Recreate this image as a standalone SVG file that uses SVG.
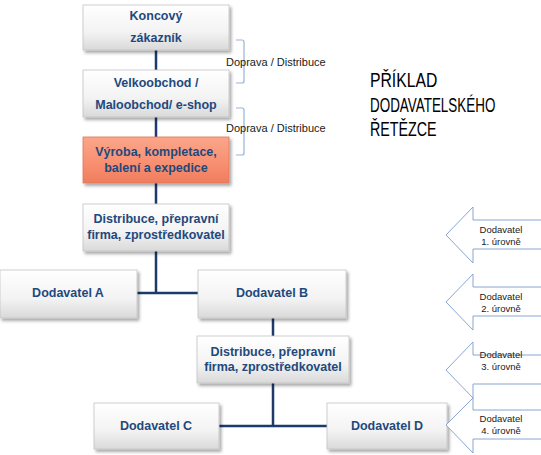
<svg xmlns="http://www.w3.org/2000/svg" width="541" height="455" viewBox="0 0 541 455">
<defs>
<linearGradient id="gw" x1="0" y1="0" x2="0" y2="1">
<stop offset="0" stop-color="#ffffff"/>
<stop offset="0.6" stop-color="#f3f3f3"/>
<stop offset="1" stop-color="#d9d9d9"/>
</linearGradient>
<linearGradient id="go" x1="0" y1="0" x2="0" y2="1">
<stop offset="0" stop-color="#fba68a"/>
<stop offset="0.6" stop-color="#f88e70"/>
<stop offset="1" stop-color="#ee7d5e"/>
</linearGradient>
<filter id="sh" x="-10%" y="-10%" width="130%" height="140%">
<feDropShadow dx="2" dy="2.5" stdDeviation="1.5" flood-color="#000" flood-opacity="0.35"/>
</filter>
</defs>
<style>
.box{fill:url(#gw);stroke:#c4c4c4;stroke-width:0.8;filter:url(#sh)}
.obox{fill:url(#go);stroke:#e2765a;stroke-width:0.8;filter:url(#sh)}
.t{font-family:"Liberation Sans",Arial,sans-serif;font-weight:bold;font-size:12.5px;fill:#1f497d;text-anchor:middle}
.c{fill:none;stroke:#1c3a6b;stroke-width:2.5}
.br{fill:none;stroke:#95b3d7;stroke-width:1.2}
.lbl{font-family:"Liberation Sans",Arial,sans-serif;font-size:11px;fill:#1a1a1a}
.arr{fill:#ffffff;stroke:#8aa6d0;stroke-width:1}
.at{font-family:"Liberation Sans",Arial,sans-serif;font-size:9.5px;fill:#1a1a1a;text-anchor:middle}
.title{font-family:"Liberation Sans",Arial,sans-serif;font-size:21px;fill:#000}
</style>

<g id="connectors">
<line class="c" x1="156" y1="50" x2="156" y2="70"/>
<line class="c" x1="156" y1="117" x2="156" y2="137"/>
<line class="c" x1="156" y1="183" x2="156" y2="204"/>
<line class="c" x1="156" y1="251" x2="156" y2="293"/>
<line class="c" x1="137" y1="293" x2="198" y2="293"/>
<line class="c" x1="273" y1="318" x2="273" y2="336"/>
<line class="c" x1="273" y1="383" x2="273" y2="426"/>
<line class="c" x1="219" y1="426" x2="327" y2="426"/>
</g>

<g id="bracket1">
<path class="br" d="M236,40 H242 Q244,40 244,42 V81 Q244,83 242,83 H236"/>
<text class="lbl" x="226" y="66">Doprava / Distribuce</text>
</g>
<g id="bracket2">
<path class="br" d="M236,108 H242 Q244,108 244,110 V153 Q244,155 242,155 H236"/>
<text class="lbl" x="226" y="132">Doprava / Distribuce</text>
</g>

<g id="n-koncovy">
<rect class="box" x="83" y="5" width="146" height="45"/>
<text class="t" x="156" y="20">Koncový</text>
<text class="t" x="156" y="42">zákazník</text>
</g>
<g id="n-velkoobchod">
<rect class="box" x="83" y="70" width="146" height="47"/>
<text class="t" x="156" y="87">Velkoobchod /</text>
<text class="t" x="156" y="109">Maloobchod/ e-shop</text>
</g>
<g id="n-vyroba">
<rect class="obox" x="83" y="137" width="146" height="46"/>
<text class="t" x="156" y="156">Výroba, kompletace,</text>
<text class="t" x="156" y="172">balení a expedice</text>
</g>
<g id="n-distribuce1">
<rect class="box" x="83" y="204" width="146" height="47"/>
<text class="t" x="156" y="223">Distribuce, přepravní</text>
<text class="t" x="156" y="239">firma, zprostředkovatel</text>
</g>
<g id="n-dodA">
<rect class="box" x="0" y="270" width="137" height="48"/>
<text class="t" x="68" y="297">Dodavatel A</text>
</g>
<g id="n-dodB">
<rect class="box" x="198" y="270" width="148" height="48"/>
<text class="t" x="272" y="297">Dodavatel B</text>
</g>
<g id="n-distribuce2">
<rect class="box" x="197" y="336" width="152" height="47"/>
<text class="t" x="273" y="356">Distribuce, přepravní</text>
<text class="t" x="273" y="371">firma, zprostředkovatel</text>
</g>
<g id="n-dodC">
<rect class="box" x="94" y="403" width="125" height="46"/>
<text class="t" x="156" y="430">Dodavatel C</text>
</g>
<g id="n-dodD">
<rect class="box" x="327" y="403" width="120" height="46"/>
<text class="t" x="387" y="430">Dodavatel D</text>
</g>

<g id="title">
<text class="title" transform="translate(370,87) scale(0.75,1)">PŘÍKLAD</text>
<text class="title" transform="translate(370,112) scale(0.64,1)">DODAVATELSKÉHO</text>
<text class="title" transform="translate(370,136) scale(0.68,1)">ŘETĚZCE</text>
</g>

<g id="arrow1">
<path class="arr" d="M446,235 L473,207 V220 H546 V249 H473 V263 Z"/>
<text class="at" x="501" y="233">Dodavatel</text>
<text class="at" x="501" y="245">1. úrovně</text>
</g>
<g id="arrow2">
<path class="arr" d="M446,302 L473,274 V287 H546 V316 H473 V330 Z"/>
<text class="at" x="501" y="300">Dodavatel</text>
<text class="at" x="501" y="312">2. úrovně</text>
</g>
<g id="arrow3">
<path class="arr" d="M446,370 L473,342 V355 H546 V384 H473 V398 Z"/>
<text class="at" x="501" y="358">Dodavatel</text>
<text class="at" x="501" y="370">3. úrovně</text>
</g>
<g id="arrow4">
<path class="arr" d="M446,425 L473,398 V410 H546 V439 H473 V453 Z"/>
<text class="at" x="501" y="422">Dodavatel</text>
<text class="at" x="501" y="434">4. úrovně</text>
</g>
</svg>
